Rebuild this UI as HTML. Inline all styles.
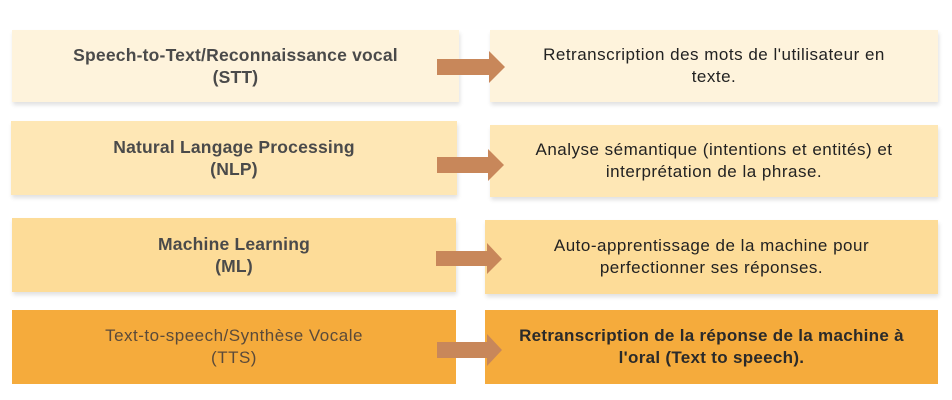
<!DOCTYPE html>
<html><head><meta charset="utf-8"><style>
body{margin:0;width:952px;height:400px;background:#fff;position:relative;overflow:hidden;font-family:"Liberation Sans",sans-serif;}
.b{position:absolute;display:flex;align-items:center;justify-content:center;text-align:center;color:#444;font-size:17px;letter-spacing:0.5px;line-height:22px;box-shadow:1px 3px 4px rgba(0,0,0,0.12);}
.l{font-weight:bold;color:#4a4a4a;font-size:17.5px;letter-spacing:0.2px;}
.r{color:#222;}
svg{position:absolute;left:0;top:0;}
</style></head><body>
<div class="b l" style="left:12px;top:30px;width:447px;height:72px;background:#fef3dc">Speech-to-Text/Reconnaissance vocal<br>(STT)</div>
<div class="b r" style="left:490px;top:30px;width:448px;height:72px;background:#fef3dc">Retranscription des mots de l'utilisateur en<br>texte.</div>
<div class="b l" style="left:11px;top:121px;width:446px;height:74px;background:#fee7b5">Natural Langage Processing<br>(NLP)</div>
<div class="b r" style="left:490px;top:125px;width:448px;height:72px;background:#fee7b5">Analyse sémantique (intentions et entités) et<br>interprétation de la phrase.</div>
<div class="b l" style="left:12px;top:218px;width:444px;height:74px;background:#fddc98">Machine Learning<br>(ML)</div>
<div class="b r" style="left:485px;top:220px;width:453px;height:74px;background:#fddc98">Auto-apprentissage de la machine pour<br>perfectionner ses réponses.</div>
<div class="b" style="left:12px;top:310px;width:444px;height:74px;background:#f5ab3c;color:#5a4a3a;box-shadow:none">Text-to-speech/Synthèse Vocale<br>(TTS)</div>
<div class="b" style="left:485px;top:310px;width:453px;height:74px;background:#f5ab3c;color:#2a2a2a;font-weight:bold;letter-spacing:0.3px;box-shadow:none">Retranscription de la réponse de la machine à<br>l'oral (Text to speech).</div>
<svg width="952" height="400">
<g fill="#c8875a">
<polygon points="437,59 489,59 489,51 505,67 489,83 489,75 437,75"/>
<polygon points="437,157 488,157 488,149 504,165 488,181 488,173 437,173"/>
<polygon points="436,251 487,251 487,243 502,259 487,274 487,266 436,266"/>
<polygon points="437,342 487,342 487,334 502,350 487,366 487,358 437,358"/>
</g></svg>
</body></html>
